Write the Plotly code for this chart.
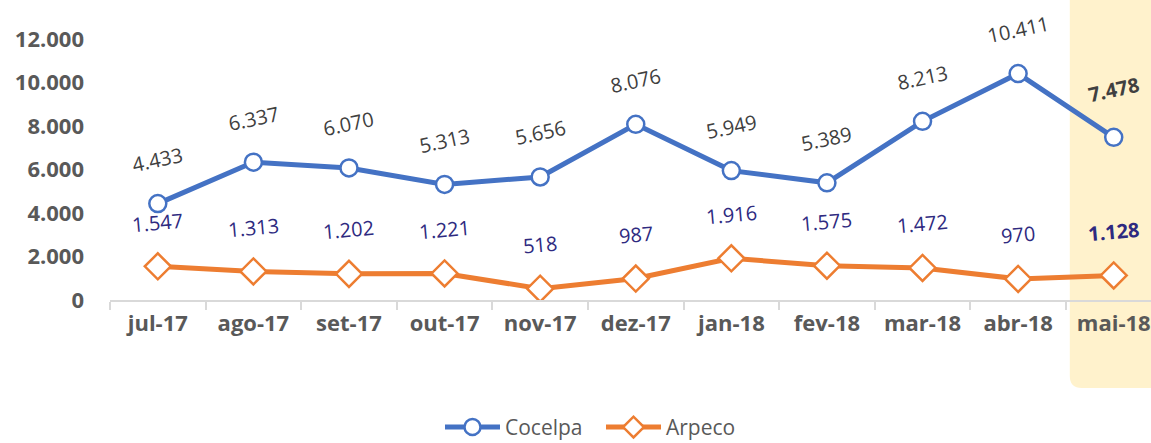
import plotly.graph_objects as go

months = ["jul-17", "ago-17", "set-17", "out-17", "nov-17", "dez-17",
          "jan-18", "fev-18", "mar-18", "abr-18", "mai-18"]
cocelpa = [4433, 6337, 6070, 5313, 5656, 8076, 5949, 5389, 8213, 10411, 7478]
arpeco = [1547, 1313, 1202, 1221, 518, 987, 1916, 1575, 1472, 970, 1128]
y_ticks = [0, 2000, 4000, 6000, 8000, 10000, 12000]

BLUE = "#4472C4"
ORANGE = "#ED7D31"
FONT = "Open Sans"


def fmt(v):
    return f"{v:,}".replace(",", ".")


fig = go.Figure()
fig.add_trace(go.Scatter(
    x=months, y=cocelpa, name="Cocelpa", mode="lines+markers",
    line=dict(color=BLUE, width=5),
    marker=dict(symbol="circle", size=17, color="white", line=dict(color=BLUE, width=2.5)),
))
fig.add_trace(go.Scatter(
    x=months, y=arpeco, name="Arpeco", mode="lines+markers",
    line=dict(color=ORANGE, width=5),
    marker=dict(symbol="diamond", size=20, color="white", line=dict(color=ORANGE, width=2.5)),
))

annotations = []
last = len(months) - 1
for i, (m, v) in enumerate(zip(months, cocelpa)):
    bold = i == last
    annotations.append(dict(
        x=m, y=v, text=(f"<b>{fmt(v)}</b>" if bold else fmt(v)), showarrow=False,
        yshift=44 if not bold else 48, textangle=-12,
        font=dict(family=FONT, size=20, color="#404040"),
    ))
for i, (m, v) in enumerate(zip(months, arpeco)):
    bold = i == last
    annotations.append(dict(
        x=m, y=v, text=(f"<b>{fmt(v)}</b>" if bold else fmt(v)), showarrow=False,
        yshift=44, textangle=-5,
        font=dict(family=FONT, size=20, color="#2E2A80"),
    ))

x0 = 0.922
y0 = -0.314
rx = 0.0115
ry = 0.043
path = (f"M {x0},1.1 L {x0},{y0 + ry} Q {x0},{y0} {x0 + rx},{y0} "
        f"L 1.02,{y0} L 1.02,1.1 Z")

fig.update_layout(
    width=1151, height=443,
    margin=dict(l=110, r=0, t=20, b=143, autoexpand=False),
    paper_bgcolor="white", plot_bgcolor="rgba(0,0,0,0)",
    font=dict(family=FONT, color="#595959"),
    showlegend=True,
    legend=dict(orientation="h", x=0.317, xanchor="left", y=-0.455, yanchor="middle",
                font=dict(family=FONT, size=21, color="#595959"), itemwidth=55,
                entrywidth=91, entrywidthmode="pixels",
                bgcolor="rgba(0,0,0,0)"),
    shapes=[dict(type="path", path=path, xref="paper", yref="paper",
                 fillcolor="#FFF2CC", line=dict(width=0), layer="below")],
    annotations=annotations,
)
fig.update_xaxes(
    type="category", range=[-0.5, 10.39], automargin=False,
    showgrid=False, showline=True, linecolor="#D9D9D9", linewidth=2,
    ticks="outside", tickson="boundaries", ticklen=8, tickcolor="#D9D9D9", tickwidth=2,
    tickfont=dict(family=FONT, size=22, color="#595959", weight="bold"),
    ticklabelstandoff=3, zeroline=False,
)
fig.update_yaxes(
    range=[0, 12874], tickvals=y_ticks, ticktext=[fmt(v) for v in y_ticks],
    showgrid=False, zeroline=False, showline=False, automargin=False,
    tickfont=dict(family=FONT, size=22, color="#595959", weight="bold"),
    ticklabelstandoff=25,
)

fig.write_html(
    "out.html",
    config={"displayModeBar": False},
    post_script="document.body.style.margin='0';document.body.style.overflow='hidden';",
)
